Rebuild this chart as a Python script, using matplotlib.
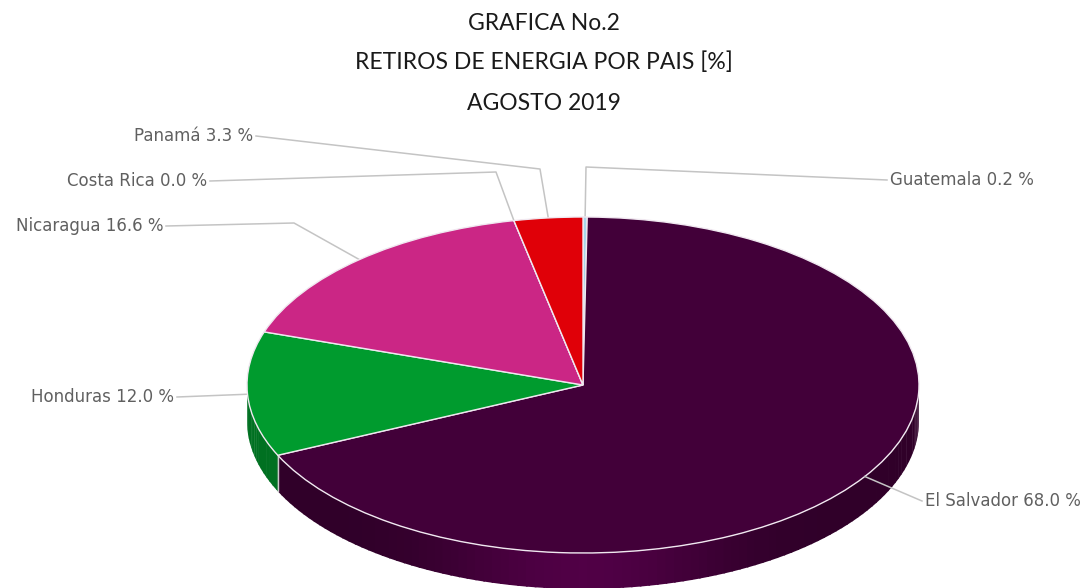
import numpy as np
import matplotlib
matplotlib.use("Agg")
import matplotlib.pyplot as plt
from matplotlib.colors import to_rgb

# Data, clockwise from the top of the pie
paises = ["Guatemala", "El Salvador", "Honduras", "Nicaragua", "Costa Rica", "Panamá"]
valores = [0.2, 68.0, 12.0, 16.6, 0.0, 3.3]
colores = ["#a8d8ea", "#420039", "#009b2e", "#cb2685", "#8a8a8a", "#e00008"]
titulos = ["GRAFICA No.2", "RETIROS DE ENERGIA POR PAIS [%]", "AGOSTO 2019"]

W, H = 1092, 588
cx, cy = 583, 385    # pie centre, pixels
rx, ry = 336, 168    # pie radii, pixels
grosor = 36          # thickness of the pie, pixels

# label anchor and elbow of each leader line, pixels
etiquetas = {
    "Guatemala": (890, 180, (586, 167), "left"),
    "El Salvador": (925, 501, None, "left"),
    "Honduras": (174, 397, None, "right"),
    "Nicaragua": (163, 226, (294, 223), "right"),
    "Costa Rica": (207, 181, (496, 172), "right"),
    "Panamá": (253, 136, (540, 169), "right"),
}


def a_px(x, y):
    return cx + x * rx, cy - y * ry


fig = plt.figure(figsize=(W / 100, H / 100), dpi=100)
ax = fig.add_axes([0, 0, 1, 1])

wedges, _ = ax.pie(valores, colors=colores, startangle=90, counterclock=False,
                   radius=1, center=(0, 0),
                   wedgeprops={"edgecolor": "#f0e8f0", "linewidth": 1.0, "zorder": 3})
ax.set_aspect("auto")
ax.set_xlim((0 - cx) / rx, (W - cx) / rx)
ax.set_ylim((cy - H) / ry, cy / ry)
ax.axis("off")

# side wall of the pie, one thin strip per step so it can shade
prof = grosor / ry
for w, color, val in zip(wedges, colores, valores):
    if val == 0:
        continue
    t1, t2 = w.theta1 % 360, w.theta2 % 360
    if t2 <= t1:
        t2 += 360
    inicio = t1
    t1 = max(t1, 180)
    t2 = min(t2, 360)
    if t2 <= t1:
        continue
    base = np.array(to_rgb(color))
    pasos = np.arange(t1, t2 + 1.5, 1.5)
    pasos[-1] = t2
    for a, b in zip(pasos[:-1], pasos[1:]):
        tt = np.radians(np.linspace(a, min(b + 0.3, t2), 4))
        xs = np.cos(tt)
        ys = np.sin(tt)
        luz = 0.72 + 0.5 * abs(np.sin(np.radians((a + b) / 2))) ** 12
        ax.fill(np.r_[xs, xs[::-1]], np.r_[ys, ys[::-1] - prof],
                color=np.clip(base * luz, 0, 1), lw=0, zorder=1)
    # light seam where the wall starts
    if inicio >= 180:
        ax.plot([np.cos(np.radians(t1))] * 2,
                [np.sin(np.radians(t1)), np.sin(np.radians(t1)) - prof],
                color="#c8c8c8", lw=1, zorder=2)

# leader lines start at each slice's middle, on the rim
for w, pais, val in zip(wedges, paises, valores):
    px, py, codo, ha = etiquetas[pais]
    medio = np.radians((w.theta1 + w.theta2) / 2)
    xr, yr = np.cos(medio), np.sin(medio)
    xs_px = [px - 3 if ha == "left" else px + 3]
    ys_px = [py]
    if codo is not None:
        xs_px.append(codo[0])
        ys_px.append(codo[1])
    ex, ey = a_px(xr, yr)
    xs_px.append(ex)
    ys_px.append(ey)
    ax.plot((np.array(xs_px) - cx) / rx, (cy - np.array(ys_px)) / ry,
            color="#c4c4c4", lw=1.1, zorder=4 if pais == "El Salvador" else 2)
    ax.text((px - cx) / rx, (cy - py) / ry, f"{pais} {val:.1f} %",
            ha=ha, va="center", fontsize=12, color="#606060",
            family="DejaVu Sans", zorder=5)

# titles, in figure pixels
for t, y in zip(titulos, [24, 62, 104]):
    fig.text(544 / W, 1 - y / H, t, ha="center", va="center",
             fontsize=16.5, color="#1a1a1a", family="Lato")

fig.savefig("out.png", dpi=100)
